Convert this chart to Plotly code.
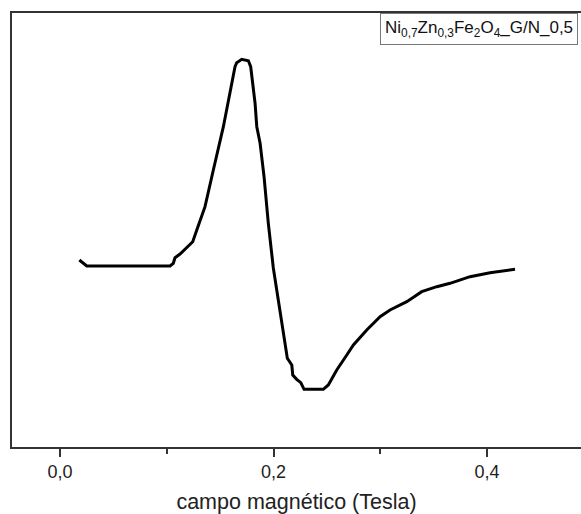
import plotly.graph_objects as go

# magnetic field (Tesla)
field = [0.0181, 0.0250, 0.1030, 0.1061, 0.1077, 0.1124, 0.1202, 0.1243, 0.1281, 0.1358,
         0.1436, 0.1530, 0.1639, 0.1655, 0.1702, 0.1764, 0.1786, 0.1827, 0.1843, 0.1874,
         0.1911, 0.1951, 0.1998, 0.2061, 0.2108, 0.2129, 0.2171, 0.2180, 0.2217, 0.2255,
         0.2286, 0.2466, 0.2513, 0.2592, 0.2686, 0.2748, 0.2873, 0.2998, 0.3091, 0.3248,
         0.3388, 0.3529, 0.3653, 0.3841, 0.4028, 0.4262]
# signal (arbitrary units)
signal = [187, 181, 181, 183.7, 189.3, 193, 201, 205.3, 217, 240.3,
          277, 320.3, 380.3, 384.3, 387.7, 386.3, 380.3, 343.7, 320.3, 303.7,
          270.3, 223.7, 179, 133.7, 103.7, 88.7, 82, 72, 67.7, 64.3,
          57.7, 57.7, 62, 77, 92, 102, 117, 130.3, 137, 145.3,
          155.3, 160.3, 163.7, 170.3, 174.3, 177.7]

major_ticks = [0.0, 0.2, 0.4]
minor_ticks = [0.1, 0.3]
label = "Ni<sub>0,7</sub>Zn<sub>0,3</sub>Fe<sub>2</sub>O<sub>4</sub>_G/N_0,5"

FONT = "Liberation Sans, Arial, sans-serif"

fig = go.Figure()
fig.add_trace(go.Scatter(x=field, y=signal, mode="lines",
                         line=dict(color="black", width=3), showlegend=False))

fig.update_layout(
    width=581, height=514,
    margin=dict(l=12, r=0, t=13, b=67),
    paper_bgcolor="white", plot_bgcolor="white",
    separators=",.",
    font=dict(family=FONT, color="#222"),
    xaxis=dict(range=[-0.045, 0.488], tickvals=major_ticks, tickformat=".1f",
               showgrid=False, zeroline=False,
               showline=True, linecolor="#333", linewidth=1.5, mirror=True,
               ticks="outside", ticklen=8, tickwidth=1.5, tickcolor="#333",
               minor=dict(tickvals=minor_ticks, ticks="outside", ticklen=5,
                          tickwidth=1.5, tickcolor="#333", showgrid=False),
               tickfont=dict(size=18, family=FONT, color="#222"),
               title=dict(text="campo magnético (Tesla)", standoff=13,
                          font=dict(size=21.5, family=FONT, color="#222"))),
    yaxis=dict(range=[0, 434], showticklabels=False, ticks="", showgrid=False,
               zeroline=False, showline=True, linecolor="#333", linewidth=1.5,
               mirror=False),
    annotations=[dict(text=label, xref="paper", yref="paper", x=1, y=1,
                      xanchor="right", yanchor="top", xshift=-3, showarrow=False,
                      bordercolor="#777", borderwidth=1, borderpad=4,
                      bgcolor="white",
                      font=dict(size=17, family=FONT, color="#111"))],
)

fig.write_html("out.html")
